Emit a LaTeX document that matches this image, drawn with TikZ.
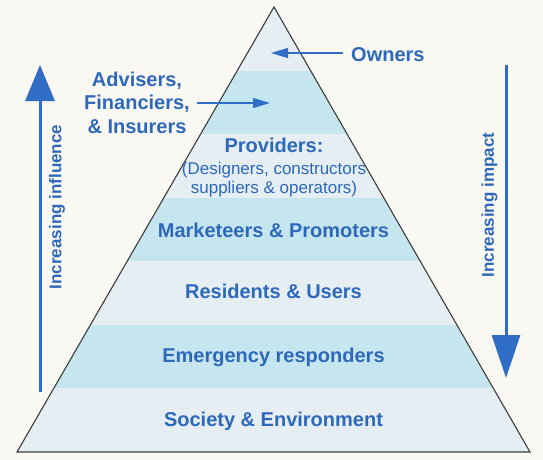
\documentclass[tikz,border=0pt]{standalone}
\usepackage{fontspec}
\setmainfont{Liberation Sans}
\usetikzlibrary{arrows.meta}
\definecolor{bg}{RGB}{250,248,242}
\definecolor{bandA}{RGB}{229,238,242}
\definecolor{bandB}{RGB}{198,230,239}
\definecolor{txt}{RGB}{46,104,186}
\definecolor{arr}{RGB}{47,110,196}
\definecolor{edge}{RGB}{60,60,60}
\begin{document}
\begin{tikzpicture}[x=1pt,y=-1pt,
  lbl/.style={font=\bfseries\fontsize{20}{23.5}\selectfont, text=txt, inner sep=0pt, align=center},
  sidelbl/.style={font=\bfseries\fontsize{17}{20}\selectfont, text=txt, inner sep=0pt, rotate=90},
  bigarr/.style={draw=arr, line width=3pt, -{Triangle[width=29pt,length=36pt]}},
  smallarr/.style={draw=arr, line width=1.3pt, -{Triangle[width=10pt,length=17pt]}},
  outline/.style={draw=edge, line width=1.1pt, line join=miter}]
\useasboundingbox (0,0) rectangle (543,460);
\fill[bg] (0,0) rectangle (543,460);
\coordinate (apex) at (274,7);
\coordinate (bl) at (17,452);
\coordinate (br) at (530,452);
\begin{scope}
  \clip (apex) -- (bl) -- (br) -- cycle;
  \foreach \i/\c in {0/bandA,1/bandB,2/bandA,3/bandB,4/bandA,5/bandB,6/bandA}
    \fill[\c] (0,{7+\i*63.571}) rectangle (543,{7+(\i+1)*63.571});
\end{scope}
\draw[outline] (apex) -- (bl) -- (br) -- cycle;

% labels inside pyramid
\node[lbl, anchor=base west] (owners) at (351,61) {Owners};
\node[lbl] (adv) at (137,102.5) {Advisers,\\Financiers,\\\& Insurers};
\node[lbl] (prov) at (274,168) {Providers:\\[-2pt]{\mdseries\fontsize{17}{18}\selectfont (Designers, constructors}\\[-4pt]{\mdseries\fontsize{17}{18}\selectfont suppliers \& operators)}};
\node[lbl, anchor=base] (mark) at (273.5,237) {Marketeers \& Promoters};
\node[lbl, anchor=base] (res) at (273.5,298) {Residents \& Users};
\node[lbl, anchor=base] (emer) at (273.5,362) {Emergency responders};
\node[lbl, anchor=base] (soc) at (273.5,426) {Society \& Environment};

% small arrows
\coordinate (ownT) at (271,53);
\coordinate (advT) at (270,103);
\draw[smallarr, shorten <=8pt] (owners.west |- ownT) -- (ownT);
\draw[smallarr, shorten <=7pt] (adv.east |- advT) -- (advT);

% side arrows
\coordinate (infB) at (40,392);
\coordinate (infT) at (40,65);
\draw[bigarr] (infB) -- (infT);
\node[sidelbl] (inf) at (57,207) {Increasing influence};
\coordinate (impT) at (506,65);
\coordinate (impB) at (506,378);
\draw[bigarr, -{Triangle[width=28pt,length=43pt]}] (impT) -- (impB);
\node[sidelbl] (imp) at (489.5,205) {Increasing impact};
\end{tikzpicture}
\end{document}
